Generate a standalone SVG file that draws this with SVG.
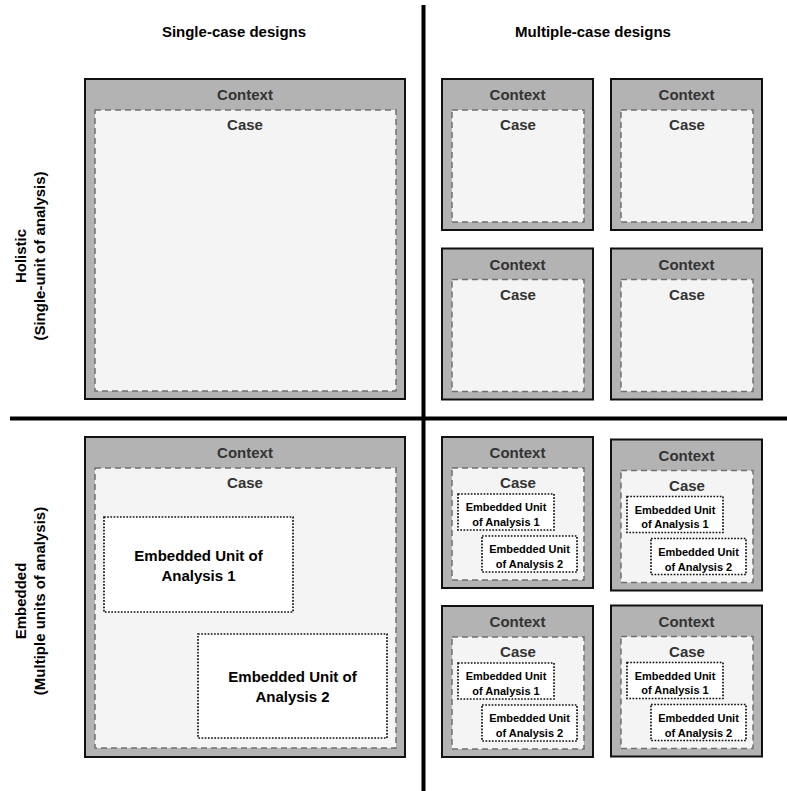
<svg xmlns="http://www.w3.org/2000/svg" xmlns:xlink="http://www.w3.org/1999/xlink" width="787" height="791" viewBox="0 0 787 791">
  <style>
    .ctx { fill: #b3b3b3; stroke: #111; stroke-width: 2; }
    .case { fill: #f4f4f4; stroke: #707070; stroke-width: 1.5; stroke-dasharray: 6 4; }
    .unit { fill: #ffffff; stroke: #111; stroke-width: 1.7; stroke-dasharray: 1.7 1.5; }
    .lbl { font-family: "Liberation Sans", Arial, sans-serif; font-weight: bold; font-size: 15px; fill: #333; text-anchor: middle; }
    .head { font-family: "Liberation Sans", Arial, sans-serif; font-weight: bold; font-size: 15px; fill: #000; text-anchor: middle; }
    .u-sm { font-family: "Liberation Sans", Arial, sans-serif; font-weight: bold; font-size: 11px; fill: #000; text-anchor: middle; }
    .u-lg { font-family: "Liberation Sans", Arial, sans-serif; font-weight: bold; font-size: 15px; fill: #000; text-anchor: middle; }
    .axis { stroke: #000; stroke-width: 4; }
  </style>
  <defs>
    <!-- small context/case box, 151 x 151 -->
    <g id="smallBox">
      <rect class="ctx" x="0" y="0" width="151" height="151"/>
      <rect class="case" x="10" y="31" width="132" height="112"/>
      <text class="lbl" x="75.5" y="21">Context</text>
      <text class="lbl" x="76" y="51">Case</text>
    </g>
    <!-- small box with two embedded units -->
    <g id="smallEmbedded">
      <use xlink:href="#smallBox"/>
      <rect class="unit" x="16" y="57" width="96" height="36"/>
      <text class="u-sm" x="64" y="74">Embedded Unit</text>
      <text class="u-sm" x="64" y="88.5">of Analysis 1</text>
      <rect class="unit" x="40" y="99" width="95" height="36"/>
      <text class="u-sm" x="87.5" y="116">Embedded Unit</text>
      <text class="u-sm" x="87.5" y="131">of Analysis 2</text>
    </g>
  </defs>

  <rect width="787" height="791" fill="#ffffff"/>

  <!-- quadrant dividers -->
  <g id="connectors">
    <line class="axis" x1="423.5" y1="5" x2="423.5" y2="791"/>
    <line class="axis" x1="10" y1="418.5" x2="787" y2="418.5"/>
  </g>

  <!-- headings -->
  <g id="headings">
    <text class="head" x="234" y="37">Single-case designs</text>
    <text class="head" x="593" y="37">Multiple-case designs</text>
    <text class="head" transform="translate(25.5,256) rotate(-90)">Holistic</text>
    <text class="head" transform="translate(44.5,256) rotate(-90)">(Single-unit of analysis)</text>
    <text class="head" transform="translate(25.5,601) rotate(-90)">Embedded</text>
    <text class="head" transform="translate(44.5,601) rotate(-90)">(Multiple units of analysis)</text>
  </g>

  <!-- single-case holistic -->
  <g id="single-holistic">
    <rect class="ctx" x="85" y="79" width="320" height="320"/>
    <rect class="case" x="95" y="110" width="301" height="281"/>
    <text class="lbl" x="245" y="100">Context</text>
    <text class="lbl" x="245" y="130">Case</text>
  </g>

  <!-- multiple-case holistic -->
  <g id="multi-holistic-1"><use xlink:href="#smallBox" x="442" y="79"/></g>
  <g id="multi-holistic-2"><use xlink:href="#smallBox" x="611" y="79"/></g>
  <g id="multi-holistic-3"><use xlink:href="#smallBox" x="442" y="248.5"/></g>
  <g id="multi-holistic-4"><use xlink:href="#smallBox" x="611" y="248.5"/></g>

  <!-- single-case embedded -->
  <g id="single-embedded">
    <rect class="ctx" x="85" y="437" width="320" height="320"/>
    <rect class="case" x="95" y="468" width="301" height="280"/>
    <text class="lbl" x="245" y="458">Context</text>
    <text class="lbl" x="245" y="488">Case</text>
    <rect class="unit" x="104" y="517" width="189" height="95"/>
    <text class="u-lg" x="198.5" y="560.5">Embedded Unit of</text>
    <text class="u-lg" x="198.5" y="581">Analysis 1</text>
    <rect class="unit" x="198" y="634" width="189" height="104"/>
    <text class="u-lg" x="292.5" y="682">Embedded Unit of</text>
    <text class="u-lg" x="292.5" y="702">Analysis 2</text>
  </g>

  <!-- multiple-case embedded -->
  <g id="multi-embedded-1"><use xlink:href="#smallEmbedded" x="442" y="437"/></g>
  <g id="multi-embedded-2"><use xlink:href="#smallEmbedded" x="611" y="439.5"/></g>
  <g id="multi-embedded-3"><use xlink:href="#smallEmbedded" x="442" y="606"/></g>
  <g id="multi-embedded-4"><use xlink:href="#smallEmbedded" x="611" y="605.5"/></g>
</svg>
